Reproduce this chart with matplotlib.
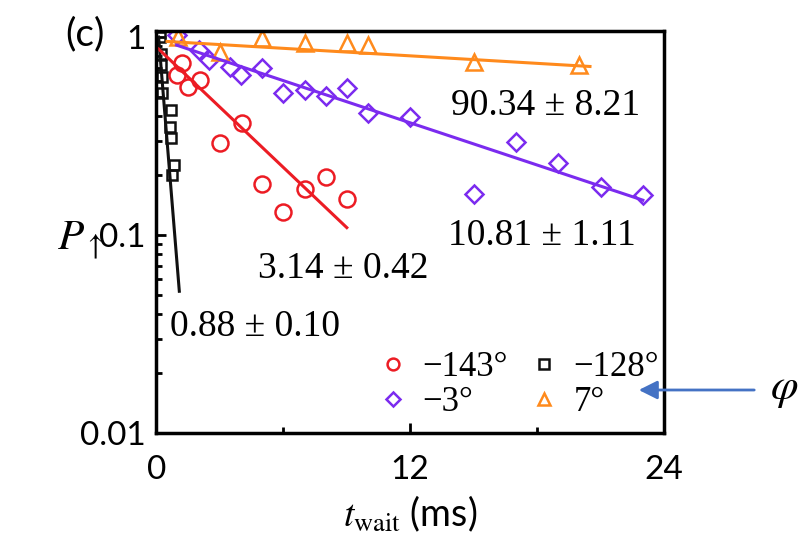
import numpy as np
import matplotlib
matplotlib.use("Agg")
import matplotlib.pyplot as plt
from matplotlib.lines import Line2D
from matplotlib.ticker import NullFormatter, FixedLocator

plt.rcParams["mathtext.fontset"] = "stix"

# ---- measured decay data: waiting time (ms) and spin-up population ----
t_m143 = [0.95, 1.2, 1.5, 2.05, 3.0, 4.05, 5.0, 6.0, 7.0, 8.0, 9.0]
p_m143 = [0.64, 0.74, 0.56, 0.61, 0.29, 0.37, 0.18, 0.13, 0.17, 0.196, 0.152]

t_m128 = [0.15, 0.2, 0.22, 0.25, 0.28, 0.7, 0.65, 0.7, 0.85, 0.72]
p_m128 = [1.0, 0.82, 0.72, 0.63, 0.52, 0.43, 0.35, 0.31, 0.225, 0.20]

t_m3 = [0.95, 2.0, 2.5, 3.5, 4.0, 5.0, 6.0, 7.0, 8.0, 9.0, 10.0, 12.0,
        15.0, 17.0, 19.0, 21.0, 23.0]
p_m3 = [1.02, 0.865, 0.765, 0.708, 0.645, 0.70, 0.524, 0.54, 0.504, 0.551,
        0.415, 0.396, 0.162, 0.296, 0.232, 0.175, 0.159]

t_p7 = [1.0, 3.0, 5.0, 7.0, 9.0, 10.0, 15.0, 20.0]
p_p7 = [1.0, 0.843, 0.985, 0.936, 0.93, 0.911, 0.75, 0.722]

# exponential fits (straight on log axis): start/end of each fitted segment
fit_m143_t = [0.1, 9.0]
fit_m143_p = [0.87, 0.109]
fit_m128_t = [0.1, 1.08]
fit_m128_p = [1.0, 0.052]
fit_m3_t = [0.95, 23.0]
fit_m3_p = [0.91, 0.15]
fit_p7_t = [0.5, 20.5]
fit_p7_p = [0.95, 0.71]

# fitted lifetimes (ms)
tau_labels = ["0.88 ± 0.10", "3.14 ± 0.42", "10.81 ± 1.11", "90.34 ± 8.21"]
tau_pos_t = [0.64, 4.81, 13.8, 13.95]
tau_pos_p = [0.0309, 0.0604, 0.089, 0.404]

angle_labels = ["−143°", "−128°", "−3°", "7°"]

x_ticks = [0, 12, 24]
x_minor = [6, 18]
y_ticks = [0.01, 0.1, 1]
y_ticklabels = ["0.01", "0.1", "1"]

RED = "#EC1C24"
BLACK = "#111111"
PURPLE = "#7B2BEF"
ORANGE = "#FF8A1C"

sans = ["Lato", "DejaVu Sans"]
serif = ["Liberation Serif", "DejaVu Serif"]

fig = plt.figure(figsize=(8, 5.44), dpi=100)
ax = fig.add_axes([0.1956, 0.204, 0.6344, 0.7395])
ax.set_yscale("log")
ax.set_xlim(0, 24)
ax.set_ylim(0.01, 1.076)

mk = dict(linestyle="none", markerfacecolor="none", markeredgewidth=1.8)
ax.plot(t_m128, p_m128, marker="s", markersize=7, color=BLACK, **mk)
ax.plot(t_m143, p_m143, marker="o", markersize=11.5, color=RED, **mk)
ax.plot(t_m3, p_m3, marker="D", markersize=9.5, color=PURPLE, **mk)
ax.plot(t_p7, p_p7, marker="^", markersize=12, color=ORANGE, **mk)

ax.plot(fit_m128_t, fit_m128_p, color=BLACK, lw=2.2)
ax.plot(fit_m143_t, fit_m143_p, color=RED, lw=2.2)
ax.plot(fit_m3_t, fit_m3_p, color=PURPLE, lw=2.2)
ax.plot(fit_p7_t, fit_p7_p, color=ORANGE, lw=2.2)

for lab, tx, py in zip(tau_labels, tau_pos_t, tau_pos_p):
    ax.text(tx, py, lab, family=serif, fontsize=27, va="baseline", ha="left")

# axes styling
for sp in ax.spines.values():
    sp.set_linewidth(2.5)
ax.xaxis.set_major_locator(FixedLocator(x_ticks))
ax.xaxis.set_minor_locator(FixedLocator(x_minor))
ax.set_yticks(y_ticks)
ax.set_yticklabels(y_ticklabels)
ax.yaxis.set_minor_formatter(NullFormatter())
ax.tick_params(which="both", direction="in", top=False, right=False, width=2)
ax.tick_params(which="major", length=7)
ax.tick_params(which="minor", length=4)
ax.tick_params(axis="x", pad=16)
ax.tick_params(axis="y", pad=8)
for lbl in ax.get_xticklabels() + ax.get_yticklabels():
    lbl.set_family(sans)
    lbl.set_fontsize(24)

ax.set_xlabel(r"$t_{\mathrm{wait}}$ (ms)", family=sans, fontsize=27, labelpad=6)
ax.set_ylabel(r"$P_{\uparrow}$", fontsize=31, rotation=0, ha="center", va="center")
ax.yaxis.set_label_coords((80 - 156.5) / 507.5, (433 - 240) / 402.3)

# legend: two columns of phase angles
handles = [
    Line2D([], [], marker="o", markersize=8.5, color=RED, **mk),
    Line2D([], [], marker="D", markersize=7.5, color=PURPLE, **mk),
    Line2D([], [], marker="s", markersize=6.5, color=BLACK, **mk),
    Line2D([], [], marker="^", markersize=9, color=ORANGE, **mk),
]
labels = [angle_labels[0], angle_labels[2], angle_labels[1], angle_labels[3]]
ax.legend(handles, labels, ncol=2, frameon=False, loc="upper left",
          bbox_to_anchor=(379 / 800, (544 - 351) / 544),
          bbox_transform=fig.transFigure, borderpad=0, borderaxespad=0,
          handlelength=0.8, handletextpad=0.45, columnspacing=0.64,
          labelspacing=0.05, prop={"family": serif, "size": 25})

fig.text(65 / 800, (544 - 34) / 544, "(c)", family=["Lato", "DejaVu Sans"],
         fontsize=28, ha="left", va="center")

# arrow pointing at the legend, marked with the phase symbol
ax.annotate("", xy=(636, 544 - 390), xytext=(757, 544 - 390),
            xycoords="figure pixels", textcoords="figure pixels",
            arrowprops=dict(arrowstyle="-|>", color="#4472C4", lw=2,
                            mutation_scale=28), annotation_clip=False)
fig.text(784 / 800, (544 - 388) / 544, r"$\varphi$", fontsize=32,
         ha="center", va="center")

fig.savefig("out.png", dpi=100)
